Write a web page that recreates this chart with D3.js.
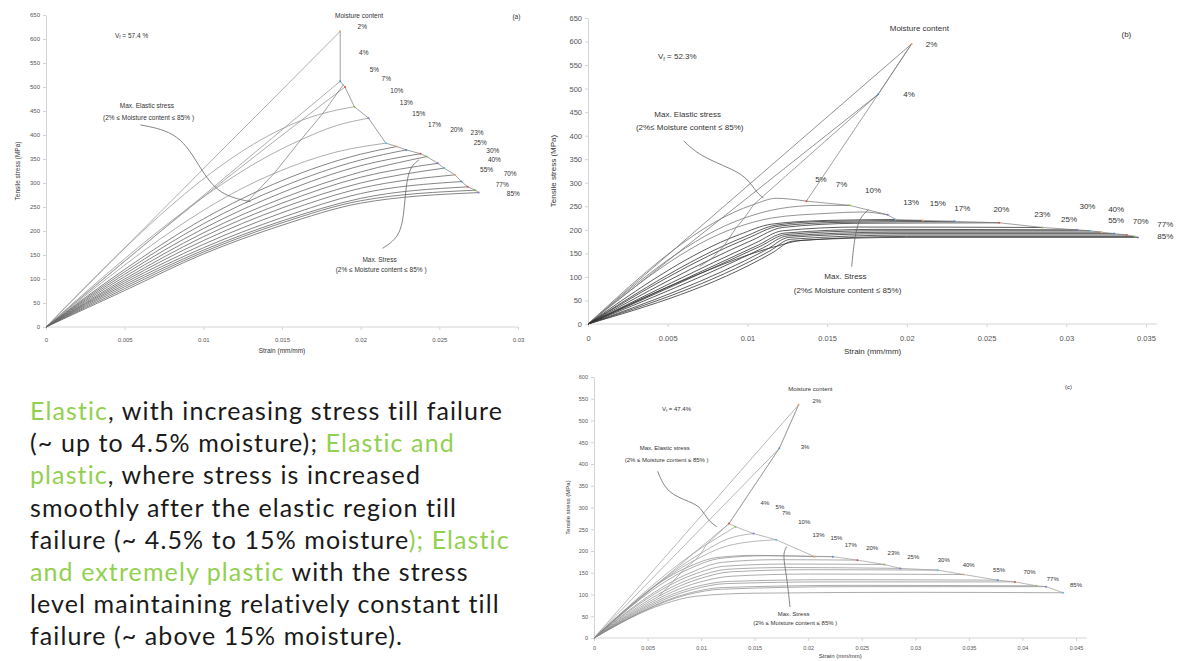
<!DOCTYPE html>
<meta charset="utf-8">
<style>
body { margin: 0; background: #fff; }
svg { display: block; }
.axis path, .axis line { stroke: #d4d4d4; }
.axis text { fill: #555; font-family: "Liberation Sans", Arial, sans-serif; }
.note { fill: #333; font-family: "Liberation Sans", Arial, sans-serif; }
.curve { fill: none; }
</style>
<svg width="1184" height="661"></svg>
<script src="https://d3js.org/d3.v7.min.js"></script>
<script>

// ---------- panel (a) : Vf = 57.4 % ----------
var aMoist = ["2%","4%","5%","7%","10%","13%","15%","17%","20%","23%","25%","30%","40%","55%","70%","77%","85%"];
var aCurves = [
  [[0,0],[0.0187,616]],
  [[0,0],[0.0187,512]],
  [[0,0],[0.0095,258],[0.0190,500]],
  [[0,0],[0.0176,445],[0.0196,459]],
  [[0,0],[0.0162,390],[0.0185,420],[0.0205,435]],
  [[0,0],[0.0145,320],[0.0185,365],[0.0216,383]],
  [[0,0],[0.005,120],[0.010,225],[0.015,305],[0.020,360],[0.0223,376]],
  [[0,0],[0.005,115],[0.010,215],[0.015,292],[0.020,348],[0.0229,369]],
  [[0,0],[0.005,110],[0.010,205],[0.015,280],[0.020,336],[0.0238,361]],
  [[0,0],[0.005,105],[0.010,196],[0.015,268],[0.020,323],[0.0242,355]],
  [[0,0],[0.005,100],[0.010,188],[0.015,258],[0.020,312],[0.0249,341]],
  [[0,0],[0.005,96],[0.010,180],[0.015,248],[0.020,300],[0.0253,331]],
  [[0,0],[0.005,92],[0.010,172],[0.015,238],[0.020,289],[0.0260,317]],
  [[0,0],[0.005,88],[0.010,165],[0.015,228],[0.020,278],[0.0264,303]],
  [[0,0],[0.005,84],[0.010,160],[0.015,221],[0.020,268],[0.0268,292]],
  [[0,0],[0.005,80],[0.010,156],[0.015,217],[0.020,263],[0.0273,285]],
  [[0,0],[0.005,76],[0.010,152],[0.015,212],[0.020,258],[0.0275,280]]
];
var aElastic = [[0.0189,505],[0.0176,445],[0.0162,390],[0.0145,320],[0.0127,258]];
var aXTicks = [0,0.005,0.01,0.015,0.02,0.025,0.03];
var aYTicks = d3.range(0, 651, 50);

// ---------- panel (b) : Vf = 52.3 % ----------
var bMoist = ["2%","4%","5%","7%","10%","13%","15%","17%","20%","23%","25%","30%","40%","55%","70%","77%","85%"];
var bCurves = [
  [[0,0],[0.0203,595]],
  [[0,0],[0.0182,488]],
  [[0,0],[0.0104,254],[0.0118,267],[0.0137,261]],
  [[0,0],[0.0098,225],[0.0120,245],[0.0145,252],[0.0164,252]],
  [[0,0],[0.0093,205],[0.0115,225],[0.0150,235],[0.0172,238],[0.0188,232]],
  [[0,0],[0.0095,190],[0.0115,212],[0.0150,220],[0.0193,222]],
  [[0,0],[0.0098,185],[0.0118,210],[0.0150,218],[0.0210,220]],
  [[0,0],[0.0100,182],[0.0120,208],[0.0160,216],[0.0230,218]],
  [[0,0],[0.0103,178],[0.0122,205],[0.0170,214],[0.0258,215]],
  [[0,0],[0.0105,172],[0.0122,198],[0.0170,206],[0.0285,205]],
  [[0,0],[0.0107,168],[0.0123,193],[0.0180,201],[0.0307,200]],
  [[0,0],[0.0108,165],[0.0124,190],[0.0180,198],[0.0315,198]],
  [[0,0],[0.0110,162],[0.0125,187],[0.0190,195],[0.0322,195]],
  [[0,0],[0.0112,158],[0.0126,184],[0.0190,192],[0.0330,192]],
  [[0,0],[0.0114,155],[0.0127,180],[0.0200,189],[0.0338,189]],
  [[0,0],[0.0116,152],[0.0128,176],[0.0200,186],[0.0343,186]],
  [[0,0],[0.0065,100],[0.0118,165],[0.0135,178],[0.0200,184],[0.0345,184]]
];
var bElastic = [[0.0203,595],[0.0182,488],[0.0104,254],[0.0098,225],[0.0093,205],[0.00857,168],[0.0078,140],[0.0070,122]];
var bXTicks = [0,0.005,0.01,0.015,0.02,0.025,0.03,0.035];
var bYTicks = d3.range(0, 651, 50);

// ---------- panel (c) : Vf = 47.4 % ----------
var cMoist = ["2%","3%","4%","5%","7%","10%","13%","15%","17%","20%","23%","25%","30%","40%","55%","70%","77%","85%"];
var cCurves = [
  [[0,0],[0.0191,536]],
  [[0,0],[0.0173,436]],
  [[0,0],[0.0110,230],[0.0126,263]],
  [[0,0],[0.0105,215],[0.0125,245],[0.0132,256]],
  [[0,0],[0.0100,195],[0.0125,228],[0.0149,240]],
  [[0,0],[0.0095,180],[0.0125,212],[0.0170,226]],
  [[0,0],[0.0085,160],[0.0115,185],[0.0150,190],[0.0206,187]],
  [[0,0],[0.0088,158],[0.0118,183],[0.0160,189],[0.0223,187]],
  [[0,0],[0.0090,150],[0.0120,174],[0.0170,180],[0.0246,179]],
  [[0,0],[0.0092,145],[0.0122,165],[0.0180,170],[0.0271,169]],
  [[0,0],[0.0095,140],[0.0125,158],[0.0180,162],[0.0286,160]],
  [[0,0],[0.0097,135],[0.0127,152],[0.0200,157],[0.0321,156]],
  [[0,0],[0.0098,128],[0.0128,142],[0.0200,147],[0.0345,146]],
  [[0,0],[0.0095,118],[0.0125,130],[0.0220,134],[0.0377,133]],
  [[0,0],[0.0093,112],[0.0123,125],[0.0220,129],[0.0393,129]],
  [[0,0],[0.0090,104],[0.0120,116],[0.0240,121],[0.0413,120]],
  [[0,0],[0.0088,100],[0.0118,112],[0.0240,118],[0.0422,118]],
  [[0,0],[0.0065,78],[0.0095,96],[0.0150,103],[0.0300,105],[0.0438,104]]
];
var cElastic = [[0.0191,536],[0.0173,436],[0.0126,263],[0.0105,215],[0.0100,195],[0.0095,180],[0.0085,160],[0.0070,120],[0.0060,95]];
var cXTicks = [0,0.005,0.01,0.015,0.02,0.025,0.03,0.035,0.04,0.045];
var cYTicks = d3.range(0, 601, 50);

// ---------- text block ----------
var noteLines = [
  [["Elastic", 1], [", with increasing stress till failure", 0]],
  [["(~ up to 4.5% moisture); ", 0], ["Elastic and", 1]],
  [["plastic", 1], [", where stress is increased", 0]],
  [["smoothly after the elastic region till", 0]],
  [["failure (~ 4.5% to 15% moisture", 0], ["); Elastic", 1]],
  [["and extremely plastic", 1], [" with the stress", 0]],
  [["level maintaining relatively constant till", 0]],
  [["failure (~ above 15% moisture).", 0]]
];

var svg = d3.select("svg");
var dotColors = ["#f4a460", "#4a90d9", "#d9534f", "#8bc34a", "#9370db", "#5bc0de"];
var fmt = function(d) { return d === 0 ? "0" : String(+d.toFixed(3)); };

function panel(o) {
  var g = svg.append("g");
  var xMax = o.xTicks[o.xTicks.length - 1];
  var x = d3.scaleLinear().domain([0, xMax]).range([o.x0, o.x1]);
  var y = d3.scaleLinear().domain([0, o.yTicks[o.yTicks.length - 1]]).range([o.y0, o.y1]);

  var xa = g.append("g").attr("class", "axis").attr("transform", "translate(0," + o.y0 + ")")
    .call(d3.axisBottom(x).tickValues(o.xTicks).tickFormat(fmt).tickSize(3).tickSizeOuter(0));
  xa.select(".domain").attr("d", "M" + o.x0 + ",0H" + x(o.xEnd));
  xa.selectAll("text").attr("font-size", o.fs).attr("y", o.tickDy).attr("dy", "0.35em");

  var ya = g.append("g").attr("class", "axis").attr("transform", "translate(" + o.x0 + ",0)")
    .call(d3.axisLeft(y).tickValues(o.yTicks).tickSize(3).tickSizeOuter(0));
  ya.selectAll("text").attr("font-size", o.fs);

  g.append("text").attr("class", "note").attr("font-size", o.fs + 0.5)
    .attr("text-anchor", "middle")
    .attr("transform", "translate(" + (o.x0 - o.fs * 4.3) + "," + ((o.y0 + o.y1) / 2) + ") rotate(-90)")
    .text("Tensile stress (MPa)");
  g.append("text").attr("class", "note").attr("font-size", o.fs + 0.5)
    .attr("text-anchor", "middle").attr("dy", "0.35em")
    .attr("x", (o.x0 + x(o.xEnd)) / 2).attr("y", o.y0 + o.titleDy)
    .text("Strain (mm/mm)");

  var line = d3.line().x(function(d) { return x(d[0]); }).y(function(d) { return y(d[1]); })
    .curve(d3.curveMonotoneX);

  g.selectAll(".curve").data(o.curves).enter().append("path")
    .attr("class", "curve")
    .attr("d", line)
    .attr("stroke", function(d, i) { return i < o.light ? o.lightColor : o.color; })
    .attr("stroke-width", o.sw);

  var straight = d3.line().x(function(d) { return x(d[0]); }).y(function(d) { return y(d[1]); });
  var ends = o.curves.map(function(c) { return c[c.length - 1]; });
  g.append("path").attr("class", "curve").attr("d", straight(ends))
    .attr("stroke", o.envColor).attr("stroke-width", 0.7);
  g.append("path").attr("class", "curve").attr("d", straight(o.elastic))
    .attr("stroke", o.envColor).attr("stroke-width", 0.7);

  g.selectAll(".dot").data(ends).enter().append("circle")
    .attr("cx", function(d) { return x(d[0]); }).attr("cy", function(d) { return y(d[1]); })
    .attr("r", 1).attr("fill", function(d, i) { return dotColors[i % dotColors.length]; });

  // callouts
  var smooth = d3.line().x(function(d) { return x(d[0]); }).y(function(d) { return y(d[1]); })
    .curve(d3.curveBasis);
  o.callouts.forEach(function(c) {
    g.append("path").attr("class", "curve").attr("d", smooth(c))
      .attr("stroke", "#666").attr("stroke-width", 0.8);
  });

  // fibre volume fraction, with subscript f
  var vf = g.append("text").attr("class", "note")
    .attr("x", x(o.vf[1])).attr("y", y(o.vf[2]))
    .attr("font-size", o.fs + 0.5).attr("text-anchor", "middle").attr("dy", "0.35em");
  vf.append("tspan").text("V");
  vf.append("tspan").text("f").attr("font-size", (o.fs + 0.5) * 0.7).attr("dy", "0.25em");
  vf.append("tspan").text(" = " + o.vf[0]).attr("dy", "-0.18em");

  // labels
  o.labels.forEach(function(l) {
    g.append("text").attr("class", "note")
      .attr("x", x(l[1])).attr("y", y(l[2]))
      .attr("font-size", o.fs + 0.5)
      .attr("text-anchor", "middle").attr("dy", "0.35em")
      .text(l[0]);
  });
  o.moistAt.forEach(function(p, i) {
    g.append("text").attr("class", "note")
      .attr("x", x(p[0])).attr("y", y(p[1]))
      .attr("font-size", o.fs + 0.5)
      .attr("text-anchor", "middle").attr("dy", "0.35em")
      .text(o.moist[i]);
  });
}

panel({
  x0: 46, x1: 518, y0: 327, y1: 15, xEnd: 0.03, fs: 6, tickDy: 13, titleDy: 24,
  xTicks: aXTicks, yTicks: aYTicks, curves: aCurves, elastic: aElastic, moist: aMoist,
  color: "#666", lightColor: "#999", light: 6, envColor: "#777", sw: 0.8,
  vf: ["57.4 %", 0.00544, 607],
  moistAt: [[0.0201,626],[0.0202,571],[0.02087,537],[0.02163,517],[0.0223,493],[0.0229,468],[0.0237,444],[0.0247,421],
            [0.0261,411],[0.0274,405],[0.0276,384],[0.0284,367],[0.0285,349],[0.0280,327],[0.0295,320],[0.0290,297],[0.0297,278]],
  labels: [["Moisture content", 0.0199, 649], ["(a)", 0.0299, 647],
           ["Max. Elastic stress", 0.00641, 461], ["(2% \u2264 Moisture content \u2264 85% )", 0.00652, 435],
           ["Max. Stress", 0.0212, 141], ["(2% \u2264 Moisture content \u2264 85% )", 0.0213, 120]],
  callouts: [
    [[0.0060,421],[0.0085,405],[0.0098,330],[0.0110,275],[0.0130,261]],
    [[0.0214,164],[0.0226,190],[0.0228,260],[0.0230,330],[0.0237,348]]
  ]
});

panel({
  x0: 588, x1: 1146, y0: 324, y1: 18, xEnd: 0.0357, fs: 7.5, tickDy: 14, titleDy: 27,
  xTicks: bXTicks, yTicks: bYTicks, curves: bCurves, elastic: bElastic, moist: bMoist,
  color: "#333", lightColor: "#777", light: 5, envColor: "#777", sw: 0.8,
  vf: ["52.3%", 0.0056, 568],
  moistAt: [[0.02155,595],[0.02014,488],[0.01461,307],[0.0159,296],[0.01788,284],[0.02027,259],[0.02194,257],[0.02348,247],
            [0.02593,243],[0.0285,234],[0.03017,222],[0.03133,250],[0.03313,243],[0.03313,220],[0.03467,218],[0.03621,213],[0.03621,186]],
  labels: [["Moisture content", 0.02078, 628], ["(b)", 0.03377, 616],
           ["Max. Elastic stress", 0.00625, 445], ["(2%\u2264 Moisture content \u2264 85%)", 0.00638, 417],
           ["Max. Stress", 0.01615, 101], ["(2%\u2264 Moisture content \u2264 85%)", 0.01628, 72]],
  callouts: [
    [[0.0060,389],[0.0070,357],[0.0090,330],[0.0100,310],[0.0106,278],[0.0110,268]],
    [[0.01654,122],[0.0167,179],[0.0170,225],[0.0176,243]]
  ]
});

panel({
  x0: 594, x1: 1076, y0: 638, y1: 377, xEnd: 0.046, fs: 5.5, tickDy: 10, titleDy: 17.5,
  xTicks: cXTicks, yTicks: cYTicks, curves: cCurves, elastic: cElastic, moist: cMoist,
  color: "#888", lightColor: "#999", light: 6, envColor: "#999", sw: 0.7,
  vf: ["47.4%", 0.0077, 526],
  moistAt: [[0.0208,544],[0.0197,439],[0.01596,310],[0.01736,302],[0.01796,287],[0.01963,266],[0.02096,237],[0.02263,229],
            [0.02397,214],[0.02597,206],[0.02797,196],[0.02981,187],[0.03265,179],[0.03498,167],[0.03782,156],[0.04066,152],[0.04283,137],[0.0450,121]],
  labels: [["Moisture content", 0.0202, 573], ["(c)", 0.0443, 577],
           ["Max. Elastic stress", 0.0066, 436], ["(2% \u2264 Moisture content \u2264 85% )", 0.00678, 409],
           ["Max. Stress", 0.01863, 55], ["(2% \u2264 Moisture content \u2264 85% )", 0.01879, 35]],
  callouts: [
    [[0.00594,383],[0.0068,333],[0.0090,313],[0.0100,300],[0.0106,271],[0.01145,256]],
    [[0.0183,71],[0.0180,141],[0.0176,194],[0.0180,210]]
  ]
});

// text block
var note = svg.append("text").attr("font-family", "Lato, 'Open Sans', sans-serif")
  .attr("font-size", 25).attr("letter-spacing", 1.1);
noteLines.forEach(function(parts, i) {
  var t = note.append("tspan").attr("x", 30).attr("y", 420 + i * 32.2);
  parts.forEach(function(p, j) {
    (j === 0 ? t : note.append("tspan")).text(p[0]).attr("fill", p[1] ? "#92d050" : "#1a1a1a");
  });
});

</script>
